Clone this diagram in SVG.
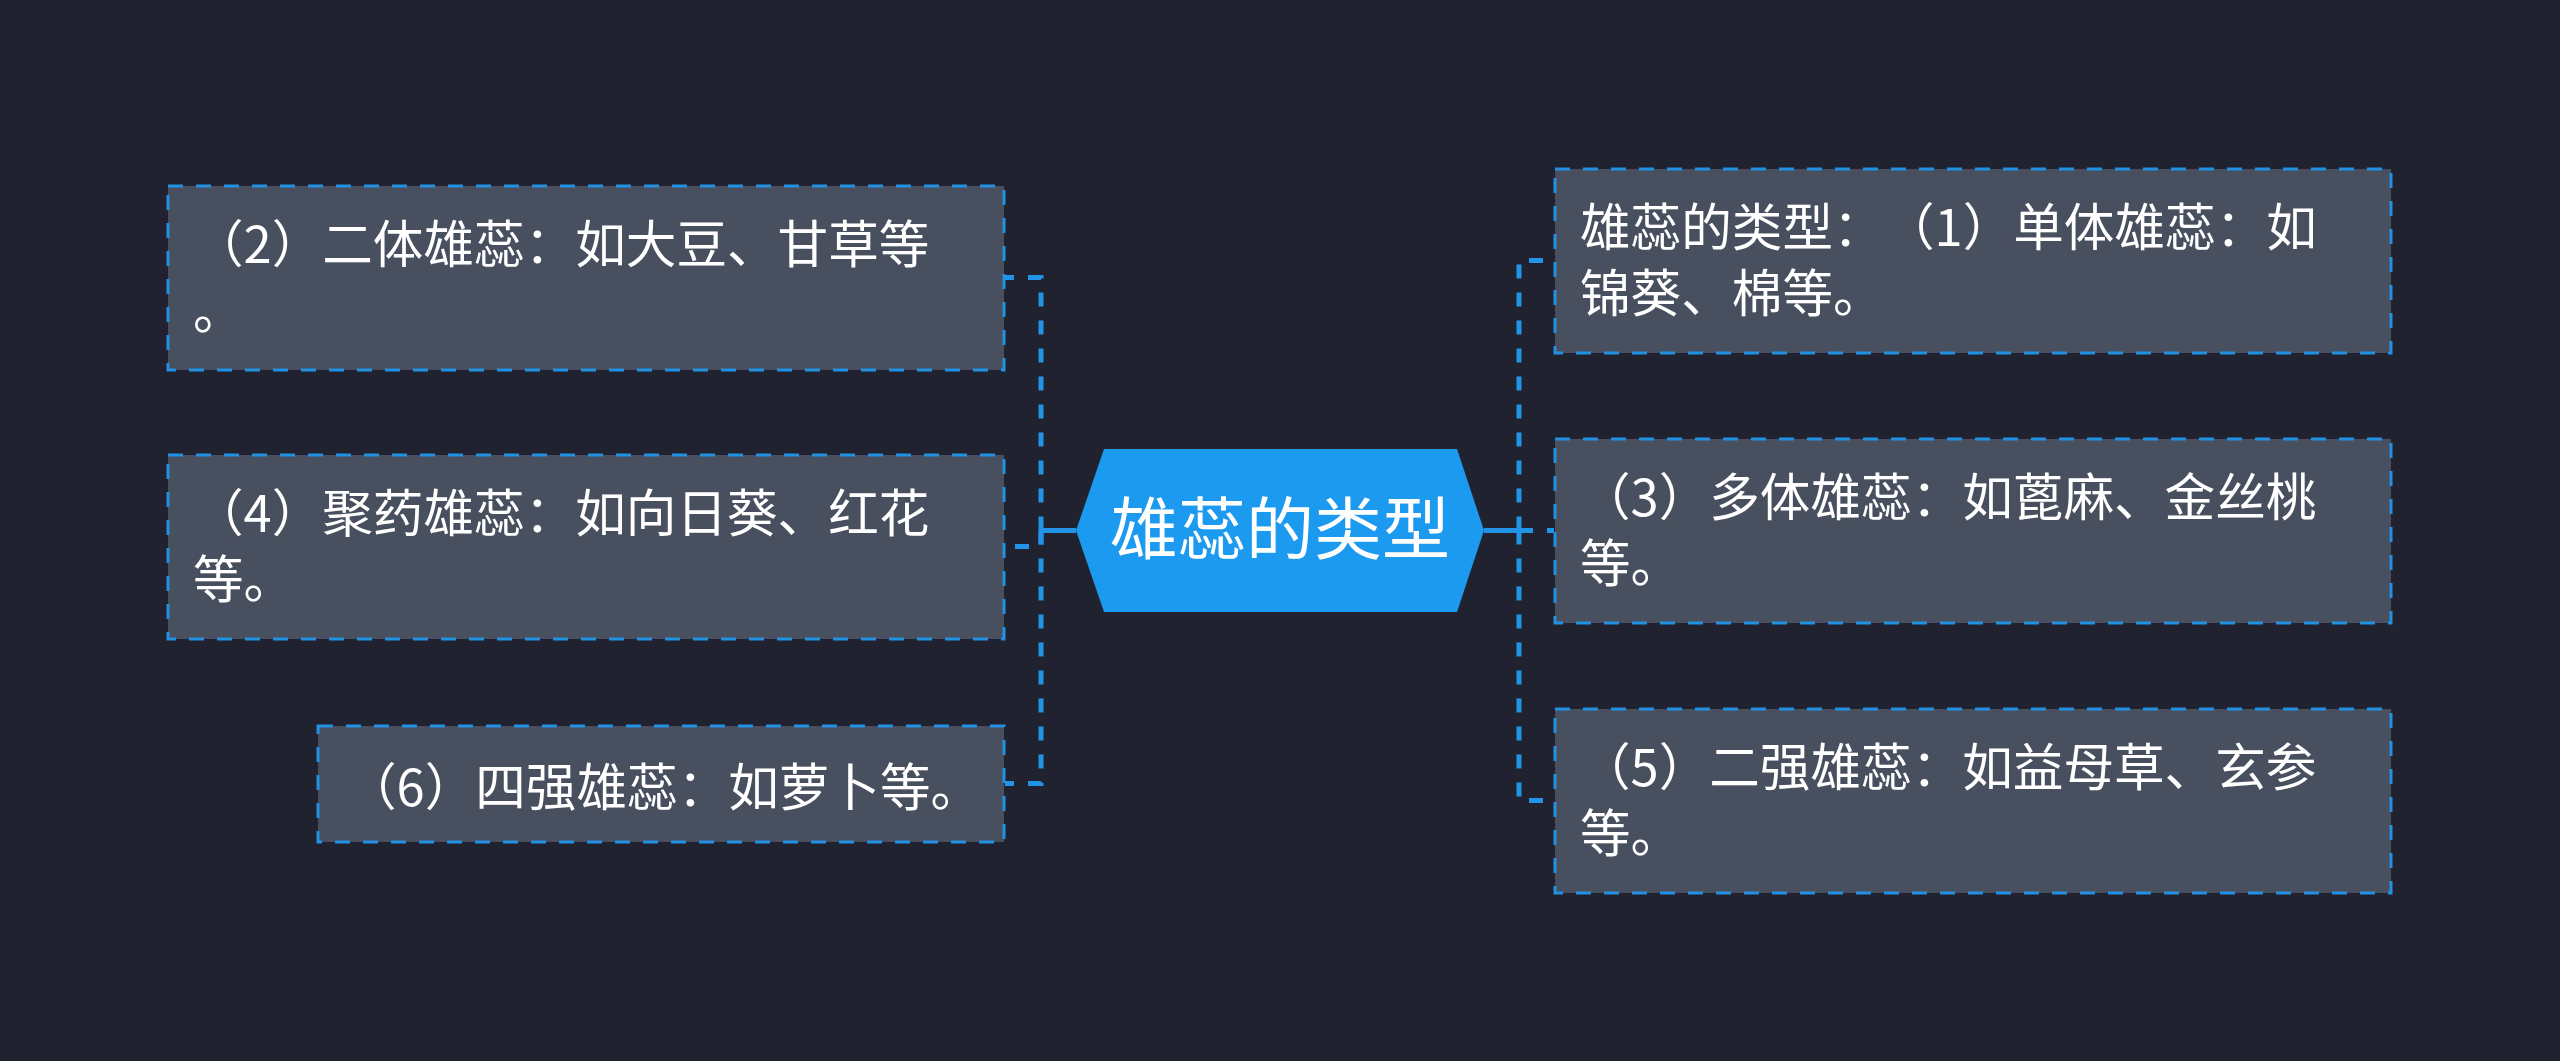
<svg xmlns="http://www.w3.org/2000/svg" width="2560" height="1061" viewBox="0 0 2560 1061">
<style>
.bg{fill:#20232F}
.box{fill:#484F5E;stroke:#2391E3;stroke-width:3;stroke-dasharray:15 13}
.t{font-family:"Noto Sans CJK SC","Noto Sans",sans-serif;font-size:50.6px;fill:#FFFFFF;text-spacing-trim:space-all}
.ct{font-family:"Noto Sans CJK SC","Noto Sans",sans-serif;font-size:68px;fill:#FFFFFF}
.dash{fill:none;stroke:#2194E8;stroke-width:5;stroke-dasharray:14 14}
.solid{fill:none;stroke:#2194E8;stroke-width:5}
</style>
<rect class="bg" x="0" y="0" width="2560" height="1061"/>
<g id="connectors">
<path class="solid" d="M1076,530.5 H1041"/>
<path class="solid" d="M1484,530.5 H1519"/>
<path class="dash" d="M1041,530.5 V277.5 H1005"/>
<path class="dash" d="M1041,530.5 V546.5 H1005"/>
<path class="dash" d="M1041,530.5 V783.5 H1005"/>
<path class="dash" d="M1519,530.5 V260.5 H1554"/>
<path class="dash" d="M1519,530.5 H1554"/>
<path class="dash" d="M1519,530.5 V800.5 H1554"/>
</g>
<g id="root">
<polygon points="1076,530.5 1104,449 1457,449 1484,530.5 1457,612 1104,612" fill="#1B9AF0"/>
<text class="ct" x="1280" y="554" text-anchor="middle">雄蕊的类型</text>
</g>
<g id="node-l1">
<rect class="box" x="168" y="186" width="836" height="184"/>
<text class="t"><tspan x="193" y="263">（2）二体雄蕊：如大豆、甘草等</tspan><tspan x="193" y="329">。</tspan></text>
</g>
<g id="node-l2">
<rect class="box" x="168" y="455" width="836" height="184"/>
<text class="t"><tspan x="193" y="532">（4）聚药雄蕊：如向日葵、红花</tspan><tspan x="193" y="598">等。</tspan></text>
</g>
<g id="node-l3">
<rect class="box" x="318" y="726" width="686" height="116"/>
<text class="t" x="346" y="806">（6）四强雄蕊：如萝卜等。</text>
</g>
<g id="node-r1">
<rect class="box" x="1555" y="169" width="836" height="184"/>
<text class="t"><tspan x="1580" y="246">雄蕊的类型：</tspan><tspan x="1884" y="246">（1）单体雄蕊：如</tspan><tspan x="1580" y="312">锦葵、棉等。</tspan></text>
</g>
<g id="node-r2">
<rect class="box" x="1555" y="439" width="836" height="184"/>
<text class="t"><tspan x="1580" y="516">（3）多体雄蕊：如蓖麻、金丝桃</tspan><tspan x="1580" y="582">等。</tspan></text>
</g>
<g id="node-r3">
<rect class="box" x="1555" y="709" width="836" height="184"/>
<text class="t"><tspan x="1580" y="786">（5）二强雄蕊：如益母草、玄参</tspan><tspan x="1580" y="852">等。</tspan></text>
</g>
</svg>
